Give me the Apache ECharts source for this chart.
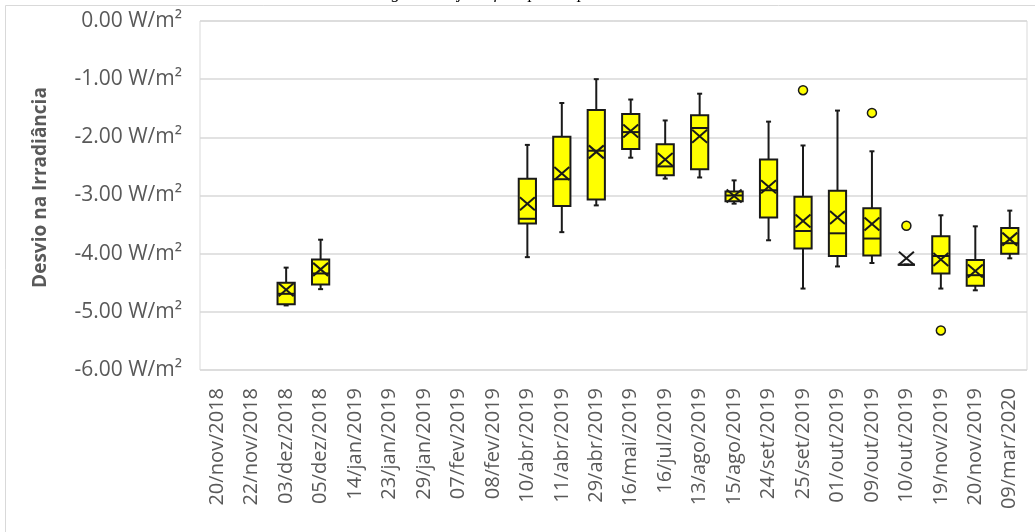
<!DOCTYPE html>
<html>
<head>
<meta charset="utf-8">
<script src="https://cdn.jsdelivr.net/npm/echarts@6/dist/echarts.min.js"></script>
<style>html,body{margin:0;padding:0;background:#fff;}#c{width:1035px;height:532px;}</style>
</head>
<body>
<div id="c"></div>
<script>
const categories = ['20/nov/2018','22/nov/2018','03/dez/2018','05/dez/2018','14/jan/2019','23/jan/2019','29/jan/2019','07/fev/2019','08/fev/2019','10/abr/2019','11/abr/2019','29/abr/2019','16/mai/2019','16/jul/2019','13/ago/2019','15/ago/2019','24/set/2019','25/set/2019','01/out/2019','09/out/2019','10/out/2019','19/nov/2019','20/nov/2019','09/mar/2020'];
const minV  = [null,null,-4.89,-4.61,null,null,null,null,null,-4.06,-3.63,-3.17,-2.35,-2.71,-2.69,-3.14,-3.77,-4.60,-4.22,-4.16,-4.19,-4.60,-4.63,-4.08];
const q1V   = [null,null,-4.87,-4.53,null,null,null,null,null,-3.48,-3.18,-3.07,-2.20,-2.65,-2.55,-3.10,-3.38,-3.91,-4.04,-4.03,-4.19,-4.34,-4.55,-4.00];
const medV  = [null,null,-4.69,-4.34,null,null,null,null,null,-3.40,-2.72,-2.23,-1.91,-2.50,-1.84,-3.00,-2.91,-3.61,-3.65,-3.74,-4.19,-4.04,-4.37,-3.82];
const q3V   = [null,null,-4.50,-4.10,null,null,null,null,null,-2.71,-1.99,-1.53,-1.60,-2.12,-1.62,-2.93,-2.38,-3.02,-2.92,-3.22,-4.19,-3.70,-4.11,-3.56];
const maxV  = [null,null,-4.24,-3.76,null,null,null,null,null,-2.13,-1.41,-1.00,-1.35,-1.71,-1.25,-2.74,-1.73,-2.14,-1.54,-2.24,-4.19,-3.34,-3.53,-3.26];
const meanV = [null,null,-4.62,-4.27,null,null,null,null,null,-3.14,-2.62,-2.25,-1.89,-2.38,-1.98,-3.01,-2.85,-3.44,-3.38,-3.49,-4.08,-4.10,-4.30,-3.75];
const outlierCat = ['25/set/2019','09/out/2019','10/out/2019','19/nov/2019'];
const outlierVal = [-1.19,-1.58,-3.52,-5.32];
const yTicks = [-6,-5,-4,-3,-2,-1,0];

const boxData = [];
categories.forEach((c,i)=>{
  if (minV[i] !== null) boxData.push([i, minV[i], q1V[i], medV[i], q3V[i], maxV[i], meanV[i]]);
});
const outData = outlierCat.map((c,i)=>[categories.indexOf(c), outlierVal[i]]);

const chart = echarts.init(document.getElementById('c'));
const lineCol = '#1a1a1a';
function renderBox(params, api){
  const i = api.value(0);
  const x = api.coord([i, 0])[0];
  const bw = api.size([1,0])[0] * 0.5;
  const hw = bw/2, cw = 2.5;
  const y = k => api.coord([i, api.value(k)])[1];
  const yMin=y(1), yQ1=y(2), yMed=y(3), yQ3=y(4), yMax=y(5), yMean=y(6);
  const ls = {stroke: lineCol, lineWidth: 2};
  const xs = 7.5, ys = 6.5;
  return {type:'group', children:[
    {type:'line', shape:{x1:x,y1:yMax,x2:x,y2:yQ3}, style:ls},
    {type:'line', shape:{x1:x,y1:yQ1,x2:x,y2:yMin}, style:ls},
    {type:'line', shape:{x1:x-cw,y1:yMax,x2:x+cw,y2:yMax}, style:ls},
    {type:'line', shape:{x1:x-cw,y1:yMin,x2:x+cw,y2:yMin}, style:ls},
    {type:'rect', shape:{x:x-hw,y:yQ3,width:bw,height:Math.max(yQ1-yQ3,0)}, style:{fill:'#ffff00', stroke:lineCol, lineWidth:2}},
    {type:'line', shape:{x1:x-hw,y1:yMed,x2:x+hw,y2:yMed}, style:ls},
    {type:'line', shape:{x1:x-xs,y1:yMean-ys,x2:x+xs,y2:yMean+ys}, style:ls},
    {type:'line', shape:{x1:x+xs,y1:yMean-ys,x2:x-xs,y2:yMean+ys}, style:ls}
  ]};
}

chart.setOption({
  animation:false,
  backgroundColor:'#ffffff',
  title:{
    text:'Irradiância corrigida ao Ajuste feita para o período solar',
    left:270, top:-20,
    textStyle:{fontFamily:'Liberation Serif', fontStyle:'italic', fontWeight:'normal', fontSize:17, color:'#000'}
  },
  graphic:[{type:'rect', shape:{x:5.5,y:5.5,width:1100,height:600}, style:{fill:'none', stroke:'#d9d9d9', lineWidth:1}, silent:true, z:-10}],
  grid:{left:200, top:21, right:8, bottom:162, show:true, borderColor:'#d9d9d9', borderWidth:1},
  xAxis:{
    type:'category', data:categories,
    axisLine:{show:false}, axisTick:{show:false},
    axisLabel:{rotate:90, interval:0, margin:18, color:'#595959', fontFamily:'Open Sans', fontSize:20}
  },
  yAxis:{
    type:'value', min:-6, max:0, interval:1,
    name:'Desvio na Irradiância', nameLocation:'middle', nameGap:150,
    nameTextStyle:{fontFamily:'Open Sans', fontWeight:'bold', fontSize:19, color:'#595959', padding:[0,0,0,16]},
    axisLine:{show:false}, axisTick:{show:false},
    axisLabel:{margin:18, color:'#595959', fontFamily:'Open Sans', fontSize:21,
      formatter: v => yTicks.includes(v) ? v.toFixed(2)+' W/m²' : ''},
    splitLine:{lineStyle:{color:'#d9d9d9', width:1.5}}
  },
  series:[
    {type:'custom', renderItem:renderBox, data:boxData, encode:{x:0, y:[1,2,3,4,5,6]}, z:3},
    {type:'scatter', data:outData, symbol:'circle', symbolSize:9,
      itemStyle:{color:'#ffff00', borderColor:lineCol, borderWidth:1.5, opacity:1}, z:4}
  ]
});
</script>
</body>
</html>
